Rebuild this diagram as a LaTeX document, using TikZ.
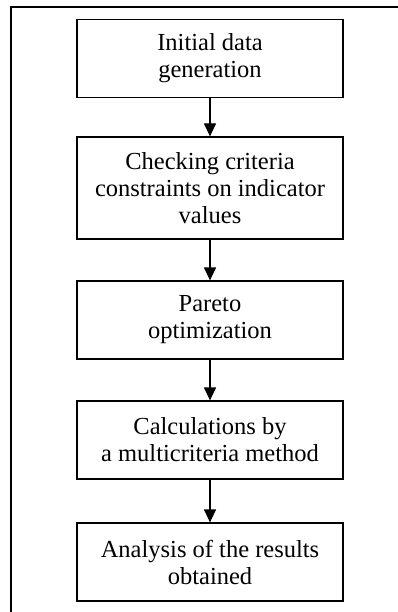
\documentclass[tikz,border=0pt]{standalone}
\usepackage{fontspec}
\setmainfont{Liberation Serif}
\usetikzlibrary{arrows.meta}
\tikzset{
  stage/.style={draw, line width=1.2pt, minimum width=266pt, minimum height=78pt,
    align=center, inner sep=0pt, font=\fontsize{24.5}{27}\selectfont},
  flow/.style={line width=1.2pt, -{Triangle[width=12pt,length=13pt]}}
}
\begin{document}
\begin{tikzpicture}[x=1pt,y=-1pt]
\useasboundingbox (0,0) rectangle (398,612);
\clip (0,0) rectangle (398,612);
% outer frame, cut off at the right and at the bottom
\draw[line width=1.4pt] (11,7) rectangle (430,650);
\node[stage] (gen) at (210,58.5) {Initial data\\generation};
\node[stage, minimum height=102pt] (check) at (210,188) {Checking criteria\\constraints on indicator\\values};
\node[stage] (pareto) at (210,320) {Pareto\\optimization};
\node[stage] (calc) at (210,440) {Calculations by\\a multicriteria method};
\node[stage] (res) at (210,562) {Analysis of the results\\obtained};
\foreach \a/\b in {gen/check,check/pareto,pareto/calc,calc/res}
  \draw[flow] (\a) -- (\b);
\end{tikzpicture}
\end{document}
